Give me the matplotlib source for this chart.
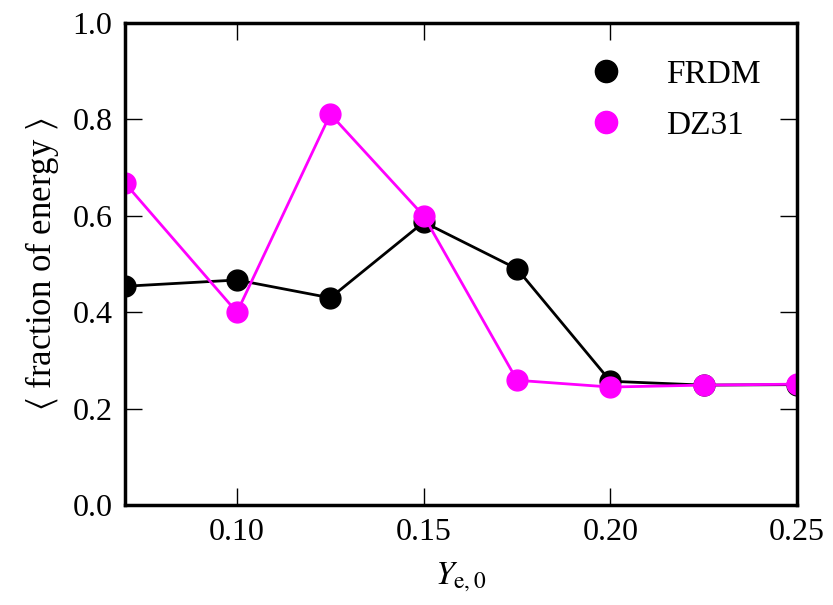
import matplotlib
matplotlib.use('Agg')
import matplotlib.pyplot as plt
from matplotlib.lines import Line2D

plt.rcParams['font.family'] = ['Liberation Serif', 'DejaVu Serif']
plt.rcParams['mathtext.fontset'] = 'stix'

ye0 = [0.07, 0.10, 0.125, 0.15, 0.175, 0.20, 0.225, 0.25]
frdm = [0.454, 0.467, 0.430, 0.587, 0.490, 0.257, 0.249, 0.250]
dz31 = [0.668, 0.400, 0.811, 0.600, 0.259, 0.245, 0.249, 0.251]

fig = plt.figure(figsize=(8.33, 6.05), dpi=100)
ax = fig.add_axes([0.150, 0.165, 0.807, 0.797])

ax.plot(ye0, frdm, '-o', color='black', lw=2, ms=15, mec='black')
ax.plot(ye0, dz31, '-o', color='#ff00ff', lw=2, ms=15, mec='#ff00ff')

ax.set_xlim(0.07, 0.25)
ax.set_ylim(0.0, 1.0)
ax.set_xticks([0.10, 0.15, 0.20, 0.25])
ax.set_yticks([0.0, 0.2, 0.4, 0.6, 0.8, 1.0])
ax.set_xticklabels(['0.10', '0.15', '0.20', '0.25'])
ax.set_yticklabels(['0.0', '0.2', '0.4', '0.6', '0.8', '1.0'])
ax.tick_params(direction='in', length=12, width=1, top=True, right=True,
               labelsize=23, pad=9)
for s in ax.spines.values():
    s.set_linewidth(2.5)

ax.set_xlabel(r'$Y_{\rm e,0}$', fontsize=24, labelpad=10)
ax.set_ylabel(r'$\langle$ fraction of energy $\rangle$', fontsize=25, labelpad=8)

handles = [
    Line2D([], [], ls='none', marker='o', ms=16, color='black', label='FRDM'),
    Line2D([], [], ls='none', marker='o', ms=16, color='#ff00ff', label='DZ31'),
]
ax.legend(handles=handles, frameon=False, fontsize=24, loc='upper right',
          numpoints=1, handletextpad=0.8, borderaxespad=0.7, labelspacing=0.6)

fig.savefig('out.png', dpi=100)
